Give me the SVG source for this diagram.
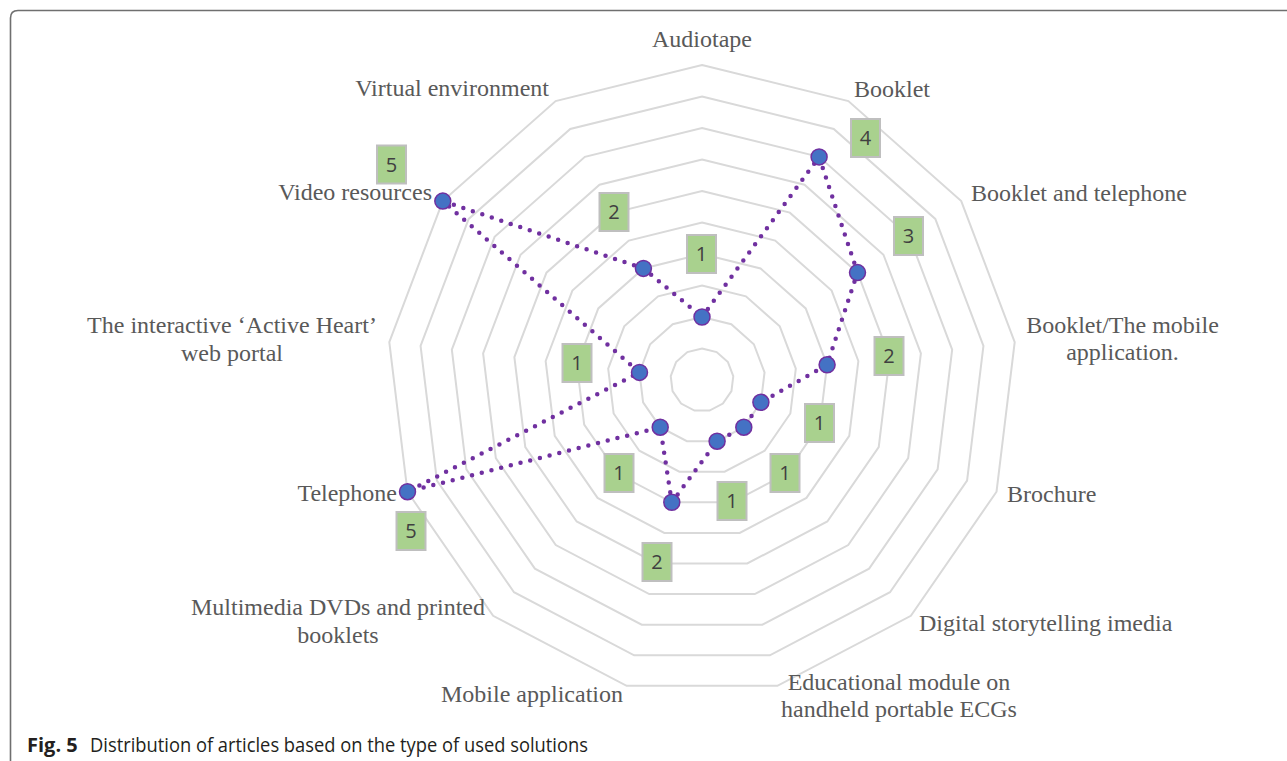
<svg xmlns="http://www.w3.org/2000/svg" width="1287" height="761" viewBox="0 0 1287 761">
<defs>
<style>
.ring{fill:none;stroke:#d9d9d9}
.cat{font-family:"Liberation Serif","Times New Roman",serif;font-size:24px;fill:#595959}
.lbl rect{fill:#a9d18e;stroke:#bfbfbf;stroke-width:2}
.lbl text{font-family:"Open Sans","Liberation Sans",sans-serif;font-size:20px;fill:#404040;text-anchor:middle}
.series{fill:none;stroke:#7030a0;stroke-width:4.5;stroke-linecap:round;stroke-linejoin:round;stroke-dasharray:0 10}
.mk{fill:#4472c4;stroke:#7030a0;stroke-width:1.5}
.cap{font-family:"Open Sans","Noto Sans",sans-serif;font-size:20px;fill:#231f20}
</style>
<polygon id="unit" fill="none" points="0,-1 0.46472,-0.88546 0.82298,-0.56806 0.99271,-0.12054 0.93502,0.35460 0.66312,0.74851 0.23932,0.97094 -0.23932,0.97094 -0.66312,0.74851 -0.93502,0.35460 -0.99271,-0.12054 -0.82298,-0.56806 -0.46472,-0.88546"/>
</defs>
<rect width="1287" height="761" fill="#ffffff"/>
<path d="M10.5,761 V18 Q10.5,10.5 18,10.5 H1287" fill="none" stroke="#6f6f6f" stroke-width="1.6"/>
<g id="grid">
<use href="#unit" class="ring" stroke-width="0.063492" transform="translate(702 380) scale(31.5)"/>
<use href="#unit" class="ring" stroke-width="0.031746" transform="translate(702 380) scale(63)"/>
<use href="#unit" class="ring" stroke-width="0.021164" transform="translate(702 380) scale(94.5)"/>
<use href="#unit" class="ring" stroke-width="0.015873" transform="translate(702 380) scale(126)"/>
<use href="#unit" class="ring" stroke-width="0.012698" transform="translate(702 380) scale(157.5)"/>
<use href="#unit" class="ring" stroke-width="0.010582" transform="translate(702 380) scale(189)"/>
<use href="#unit" class="ring" stroke-width="0.009070" transform="translate(702 380) scale(220.5)"/>
<use href="#unit" class="ring" stroke-width="0.007937" transform="translate(702 380) scale(252)"/>
<use href="#unit" class="ring" stroke-width="0.007055" transform="translate(702 380) scale(283.5)"/>
<use href="#unit" class="ring" stroke-width="0.006349" transform="translate(702 380) scale(315)"/>
</g>
<g id="categories">
<text class="cat" x="702" y="47" text-anchor="middle">Audiotape</text>
<text class="cat" x="854" y="97">Booklet</text>
<text class="cat" x="971" y="201">Booklet and telephone</text>
<text class="cat" x="1122.5" y="333" text-anchor="middle">Booklet/The mobile</text>
<text class="cat" x="1122.5" y="360" text-anchor="middle">application.</text>
<text class="cat" x="1007" y="502">Brochure</text>
<text class="cat" x="919" y="631">Digital storytelling imedia</text>
<text class="cat" x="899" y="690" text-anchor="middle">Educational module on</text>
<text class="cat" x="899" y="717" text-anchor="middle">handheld portable ECGs</text>
<text class="cat" x="623" y="702" text-anchor="end">Mobile application</text>
<text class="cat" x="338" y="615" text-anchor="middle">Multimedia DVDs and printed</text>
<text class="cat" x="338" y="643" text-anchor="middle">booklets</text>
<text class="cat" x="397" y="501" text-anchor="end">Telephone</text>
<text class="cat" x="232" y="333" text-anchor="middle">The interactive ‘Active Heart’</text>
<text class="cat" x="232" y="361" text-anchor="middle">web portal</text>
<text class="cat" x="432" y="200" text-anchor="end">Video resources</text>
<text class="cat" x="549" y="96" text-anchor="end">Virtual environment</text>
</g>
<g id="connectors">
<polygon class="series" points="702,317 819.1,156.9 857.5,272.6 827.1,364.8 760.9,402.3 743.8,427.2 717.1,441.2 671.8,502.3 660.2,427.2 407.5,491.7 639.5,372.4 442.8,201.1 643.4,268.4"/>
</g>
<g id="markers">
<circle class="mk" cx="702" cy="317" r="8"/>
<circle class="mk" cx="819.1" cy="156.9" r="8"/>
<circle class="mk" cx="857.5" cy="272.6" r="8"/>
<circle class="mk" cx="827.1" cy="364.8" r="8"/>
<circle class="mk" cx="760.9" cy="402.3" r="8"/>
<circle class="mk" cx="743.8" cy="427.2" r="8"/>
<circle class="mk" cx="717.1" cy="441.2" r="8"/>
<circle class="mk" cx="671.8" cy="502.3" r="8"/>
<circle class="mk" cx="660.2" cy="427.2" r="8"/>
<circle class="mk" cx="407.5" cy="491.7" r="8"/>
<circle class="mk" cx="639.5" cy="372.4" r="8"/>
<circle class="mk" cx="442.8" cy="201.1" r="8"/>
<circle class="mk" cx="643.4" cy="268.4" r="8"/>
</g>
<g id="label-audiotape" class="lbl"><rect x="687" y="235" width="29" height="38"/><text x="701.5" y="261">1</text></g>
<g id="label-booklet" class="lbl"><rect x="851" y="119" width="29" height="38"/><text x="865.5" y="145">4</text></g>
<g id="label-booklet-telephone" class="lbl"><rect x="894" y="217" width="29" height="38"/><text x="908.5" y="243">3</text></g>
<g id="label-booklet-mobile" class="lbl"><rect x="874.5" y="337" width="29" height="38"/><text x="889" y="363">2</text></g>
<g id="label-brochure" class="lbl"><rect x="805" y="404" width="29" height="38"/><text x="819.5" y="430">1</text></g>
<g id="label-digital" class="lbl"><rect x="770.5" y="454" width="29" height="38"/><text x="785" y="480">1</text></g>
<g id="label-educational" class="lbl"><rect x="717.5" y="482" width="29" height="38"/><text x="732" y="508">1</text></g>
<g id="label-mobile" class="lbl"><rect x="642.5" y="543" width="29" height="38"/><text x="657" y="569">2</text></g>
<g id="label-multimedia" class="lbl"><rect x="604.5" y="454" width="29" height="38"/><text x="619" y="480">1</text></g>
<g id="label-telephone" class="lbl"><rect x="396.5" y="512" width="29" height="38"/><text x="411" y="538">5</text></g>
<g id="label-active-heart" class="lbl"><rect x="562.5" y="344" width="29" height="38"/><text x="577" y="370">1</text></g>
<g id="label-video" class="lbl"><rect x="377" y="145.5" width="29" height="38"/><text x="391.5" y="171.5">5</text></g>
<g id="label-virtual" class="lbl"><rect x="599.5" y="193" width="29" height="38"/><text x="614" y="219">2</text></g>
<g id="caption">
<text class="cap" x="27" y="751.5" font-weight="bold">Fig. 5</text>
<text class="cap" x="90" y="751.5" textLength="498" lengthAdjust="spacingAndGlyphs">Distribution of articles based on the type of used solutions</text>
</g>
</svg>
